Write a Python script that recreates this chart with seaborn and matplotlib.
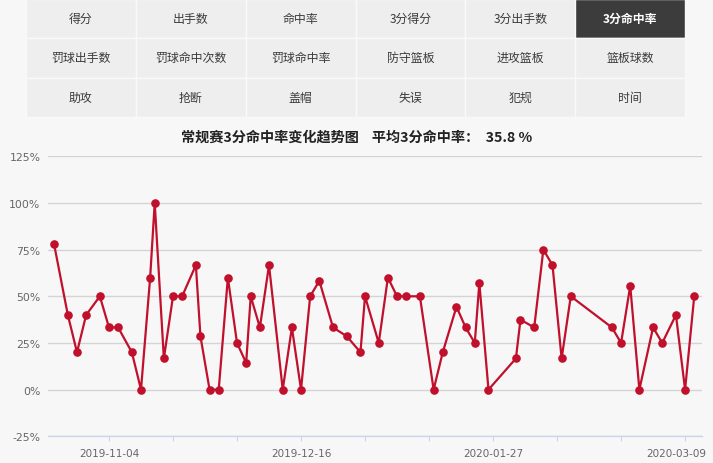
import matplotlib
matplotlib.use('Agg')
import matplotlib.pyplot as plt
from matplotlib.patches import Rectangle
from matplotlib.transforms import ScaledTranslation
import seaborn as sns
import pandas as pd

# ---------------- data ----------------
game_dates = [
    '2019-10-23', '2019-10-26', '2019-10-28', '2019-10-30', '2019-11-02',
    '2019-11-04', '2019-11-06', '2019-11-09', '2019-11-11', '2019-11-13',
    '2019-11-14', '2019-11-16', '2019-11-18', '2019-11-20', '2019-11-23',
    '2019-11-24', '2019-11-26', '2019-11-28', '2019-11-30', '2019-12-02',
    '2019-12-04', '2019-12-05', '2019-12-07', '2019-12-09', '2019-12-12',
    '2019-12-14', '2019-12-16', '2019-12-18', '2019-12-20', '2019-12-23',
    '2019-12-26', '2019-12-29', '2019-12-30', '2020-01-02', '2020-01-04',
    '2020-01-06', '2020-01-08', '2020-01-11', '2020-01-14', '2020-01-16',
    '2020-01-19', '2020-01-21', '2020-01-23', '2020-01-24', '2020-01-26',
    '2020-02-01', '2020-02-02', '2020-02-05', '2020-02-07', '2020-02-09',
    '2020-02-11', '2020-02-13', '2020-02-22', '2020-02-24', '2020-02-26',
    '2020-02-28', '2020-03-02', '2020-03-04', '2020-03-07', '2020-03-09',
    '2020-03-11',
]
three_pt_pct = [
    77.8, 40.0, 20.0, 40.0, 50.0,
    33.3, 33.3, 20.0, 0.0, 60.0,
    100.0, 16.7, 50.0, 50.0, 66.7,
    28.6, 0.0, 0.0, 60.0, 25.0,
    14.3, 50.0, 33.3, 66.7, 0.0,
    33.3, 0.0, 50.0, 58.3, 33.3,
    28.6, 20.0, 50.0, 25.0, 60.0,
    50.0, 50.0, 50.0, 0.0, 20.0,
    44.4, 33.3, 25.0, 57.1, 0.0,
    16.7, 37.5, 33.3, 75.0, 66.7,
    16.7, 50.0, 33.3, 25.0, 55.6,
    0.0, 33.3, 25.0, 40.0, 0.0,
    50.0,
]
tab_labels = [
    ['得分', '出手数', '命中率', '3分得分', '3分出手数', '3分命中率'],
    ['罚球出手数', '罚球命中次数', '罚球命中率', '防守篮板', '进攻篮板', '篮板球数'],
    ['助攻', '抢断', '盖帽', '失误', '犯规', '时间'],
]
active_tab = (0, 5)
title_text = '常规赛3分命中率变化趋势图    平均3分命中率：  35.8 %'
y_ticks = [-25, 0, 25, 50, 75, 100, 125]
x_label_dates = ['2019-11-04', '2019-12-16', '2020-01-27', '2020-03-09']
x_minor_dates = ['2019-11-18', '2019-12-02', '2019-12-30', '2020-01-13',
                 '2020-02-10', '2020-02-24']

# ---------------- figure ----------------
sns.set_theme(style='white')
plt.rcParams['font.family'] = ['Noto Sans CJK SC', 'DejaVu Sans']

W, H = 713, 464
fig = plt.figure(figsize=(W / 100, H / 100), dpi=100)
fig.patch.set_facecolor('#f7f7f7')


def fx(px):
    return px / W


def fy(py):
    return 1 - py / H


# tab grid
left, right = 26, 685
row_edges = [0, 39, 78.5, 118]
col_w = (right - left) / 6
for r, row in enumerate(tab_labels):
    for c, lab in enumerate(row):
        x0 = left + c * col_w
        y0 = row_edges[r]
        y1 = row_edges[r + 1]
        active = (r, c) == active_tab
        fig.patches.append(Rectangle(
            (fx(x0), fy(y1)), fx(col_w), (y1 - y0) / H,
            transform=fig.transFigure,
            facecolor='#3c3c3c' if active else '#eeeeee',
            edgecolor='#f9f9f9', linewidth=1.0, zorder=1))
        fig.text(fx(x0 + col_w / 2), fy((y0 + y1) / 2), lab,
                 ha='center', va='center', fontsize=8.6,
                 color='white' if active else '#3a3a3a',
                 fontweight='bold' if active else 'normal', zorder=2)

fig.text(fx(357), fy(138), title_text, ha='center', va='center',
         fontsize=10.2, fontweight='bold', color='#222222')

# chart
ax_left, ax_right = 48, 702
ax_top, ax_bottom = 157.3, 437.3
ax = fig.add_axes([fx(ax_left), fy(ax_bottom), (ax_right - ax_left) / W,
                   (ax_bottom - ax_top) / H])
ax.set_facecolor('none')

df = pd.DataFrame({'date': pd.to_datetime(game_dates), 'pct': three_pt_pct})
sns.lineplot(data=df, x='date', y='pct', ax=ax, color='#c0102c',
             marker='o', markersize=6.2, markeredgewidth=0, linewidth=1.6,
             zorder=3)

ref = pd.Timestamp('2019-11-04')
ax.set_xlim(ref - pd.Timedelta(days=13.34), ref + pd.Timedelta(days=129.7))
ax.set_ylim(-25, 125)
ax.set_yticks(y_ticks)
ax.set_yticklabels([f'{v}%' for v in y_ticks], family='DejaVu Sans')
ax.yaxis.grid(True, color='#d4d4d4', linewidth=1.0)
ax.xaxis.grid(False)
ax.set_axisbelow(True)

ax.set_xticks(pd.to_datetime(x_label_dates))
ax.set_xticklabels(x_label_dates, family='DejaVu Sans')
ax.set_xticks(pd.to_datetime(x_minor_dates), minor=True)

for s in ['top', 'right', 'left']:
    ax.spines[s].set_visible(False)
ax.spines['bottom'].set_color('#ccd6eb')
ax.spines['bottom'].set_linewidth(1.0)

ax.tick_params(axis='y', length=0, pad=5.5, labelsize=7.8, labelcolor='#666666')
ax.tick_params(axis='x', which='both', length=3.6, width=0.8, color='#ccd6eb',
               direction='out', bottom=True)
ax.tick_params(axis='x', which='major', pad=5, labelsize=7.5, labelcolor='#666666')
ax.set_xlabel('')
ax.set_ylabel('')

# keep the last date label inside the figure (shifted left like the original)
last_lbl = ax.get_xticklabels()[-1]
last_lbl.set_transform(last_lbl.get_transform()
                       + ScaledTranslation(-0.09, 0, fig.dpi_scale_trans))

fig.savefig('out.png', dpi=100, facecolor=fig.get_facecolor())
